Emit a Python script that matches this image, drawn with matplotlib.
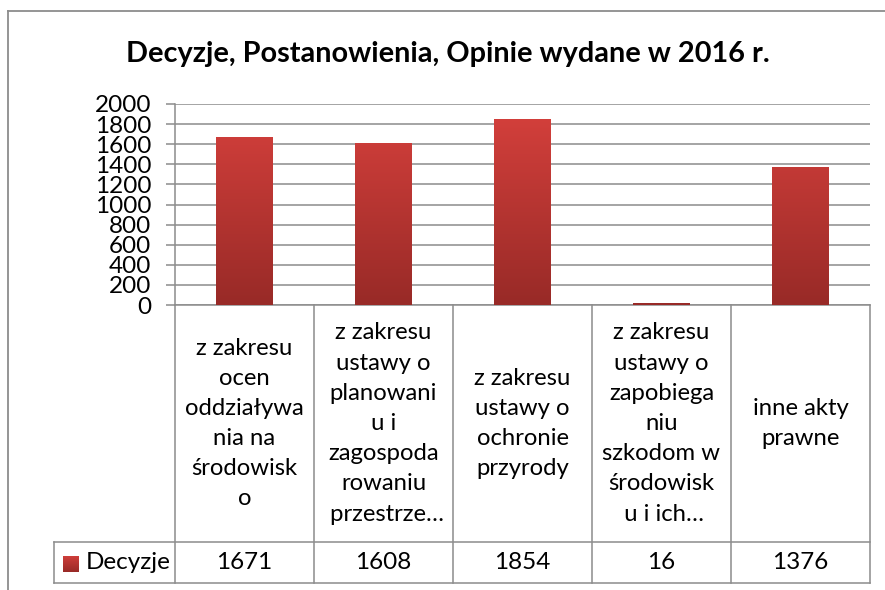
import numpy as np
import matplotlib
matplotlib.use("Agg")
import matplotlib.pyplot as plt
import matplotlib.transforms as mtransforms
from matplotlib.colors import LinearSegmentedColormap
from matplotlib.lines import Line2D

plt.rcParams['font.family'] = ['Lato', 'DejaVu Sans']

title = "Decyzje, Postanowienia, Opinie wydane w 2016 r."
series_name = "Decyzje"
categories = [
    "z zakresu\nocen\noddziaływa\nnia na\nśrodowisk\no",
    "z zakresu\nustawy o\nplanowani\nu i\nzagospoda\nrowaniu\n przestrze…",
    "z zakresu\nustawy o\nochronie\nprzyrody",
    "z zakresu\nustawy o\nzapobiega\nniu\nszkodom w\nśrodowisk\n u i ich…",
    "inne akty\nprawne",
]
values = [1671, 1608, 1854, 16, 1376]
yticks = [0, 200, 400, 600, 800, 1000, 1200, 1400, 1600, 1800, 2000]

W, H = 885, 590
fig = plt.figure(figsize=(W / 100, H / 100), dpi=100)

def fx(px):
    return px / W

def fy(py):
    return 1 - py / H

ax_l, ax_r, ax_t, ax_b = 175, 870, 104, 305
ax = fig.add_axes([fx(ax_l), fy(ax_b), fx(ax_r - ax_l), fy(ax_t) - fy(ax_b)])

grid_c = "#8c8c8c"
top_c, bot_c = "#d23f3b", "#982a27"
cmap = LinearSegmentedColormap.from_list("bar", [bot_c, top_c])

x = np.arange(len(values))
bars = ax.bar(x, values, width=0.41, color="none", edgecolor="none", zorder=3)
grad = np.linspace(0, 1, 256).reshape(-1, 1)
for b in bars:
    x0, w = b.get_x(), b.get_width()
    im = ax.imshow(grad, cmap=cmap, origin="lower", aspect="auto",
                   extent=[x0, x0 + w, 0, max(values)], zorder=3)
    im.set_clip_path(b)

ax.set_xlim(-0.5, len(values) - 0.5)
ax.set_ylim(0, 2000)
ax.set_yticks(yticks)
ax.set_yticklabels([str(t) for t in yticks], fontsize=17.5)
ax.set_xticks([])
ax.tick_params(axis="y", length=6.5, width=1.1, color=grid_c, pad=10.5)
ax.grid(axis="y", color=grid_c, linewidth=1.1, zorder=0)
ax.set_axisbelow(True)
for s in ["top", "right"]:
    ax.spines[s].set_visible(False)
for s in ["left", "bottom"]:
    ax.spines[s].set_color(grid_c)
    ax.spines[s].set_linewidth(1.1)

# data table under the axis
tr = mtransforms.blended_transform_factory(ax.transData, fig.transFigure)
row_top, row_mid, row_bot = fy(305), fy(542), fy(583)
edges = np.arange(len(values) + 1) - 0.5
for e in edges:
    ax.add_line(Line2D([e, e], [row_top, row_bot], transform=tr, color=grid_c,
                       lw=1.1, clip_on=False))
for yy in [row_mid, row_bot]:
    fig.add_artist(Line2D([fx(54), fx(ax_r)], [yy, yy], color=grid_c, lw=1.1))
fig.add_artist(Line2D([fx(54), fx(54)], [row_mid, row_bot], color=grid_c, lw=1.1))

for i, (lab, v) in enumerate(zip(categories, values)):
    ax.text(i, (row_top + row_mid) / 2, lab, transform=tr, ha="center",
            va="center", fontsize=17.2, linespacing=1.54, multialignment="center")
    ax.text(i, (row_mid + row_bot) / 2, str(v), transform=tr, ha="center",
            va="center", fontsize=17.5)

# legend key
kax = fig.add_axes([fx(63), fy(572), fx(16), fy(556) - fy(572)])
kax.imshow(grad, cmap=cmap, origin="lower", aspect="auto")
kax.axis("off")
fig.text(fx(86), (row_mid + row_bot) / 2, series_name, ha="left", va="center",
         fontsize=17.5)

fig.text(fx(448), fy(62), title, ha="center", va="baseline", fontsize=20.8,
         fontweight="bold")

# outer chart border
fig.add_artist(Line2D([fx(8), 1], [fy(11), fy(11)], color=grid_c, lw=1.3))
fig.add_artist(Line2D([fx(8), fx(8)], [fy(11), 0], color=grid_c, lw=1.3))

fig.savefig("out.png", dpi=100)
